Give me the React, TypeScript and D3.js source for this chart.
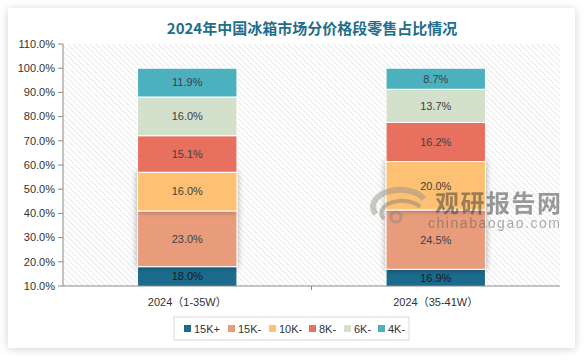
import React from "react";
import * as d3 from "d3";

const categories = ["2024（1-35W）", "2024（35-41W）"];
const seriesNames = ["15K+", "15K-", "10K-", "8K-", "6K-", "4K-"];
const s15kPlus = [18.0, 16.9];
const s15kMinus = [23.0, 24.5];
const s10k = [16.0, 20.0];
const s8k = [15.1, 16.2];
const s6k = [16.0, 13.7];
const s4k = [11.9, 8.7];
const yTicks = [10, 20, 30, 40, 50, 60, 70, 80, 90, 100, 110];
const colors = ["#1c6a8d", "#e89c7c", "#fec072", "#e8705f", "#d2e0cc", "#4bb1bf"];
const title = "2024年中国冰箱市场分价格段零售占比情况";

const seriesValues = [s15kPlus, s15kMinus, s10k, s8k, s6k, s4k];

export default function App() {
  const W = 585, H = 360;
  const left = 63, right = 560, top = 44, bottom = 286;
  const y = d3.scaleLinear().domain([10, 110]).range([bottom, top]);
  const x = d3.scaleBand<string>().domain(categories).range([left, right]).paddingInner(0.6).paddingOuter(0.3);
  const rows = categories.map((c, i) => {
    const r: any = { cat: c };
    seriesNames.forEach((s, j) => (r[s] = seriesValues[j][i]));
    return r;
  });
  const stacked = d3.stack<any>().keys(seriesNames)(rows);
  const font = "Arial, 'Liberation Sans', 'Noto Sans CJK SC', sans-serif";

  return (
    <svg width={W} height={H} style={{ position: "absolute", left: 0, top: 0 }} fontFamily={font}>
      <defs>
        <pattern id="hatch" width="4" height="4" patternUnits="userSpaceOnUse" patternTransform="rotate(-45)">
          <rect width="4" height="4" fill="#ffffff" />
          <line x1="0" y1="0" x2="0" y2="4" stroke="#d8d8d8" strokeWidth="1.1" />
        </pattern>
        <clipPath id="plot">
          <rect x={left} y={top} width={right - left} height={bottom - top} />
        </clipPath>
        <filter id="cardShadow" x="-10%" y="-10%" width="120%" height="120%">
          <feDropShadow dx="0" dy="1" stdDeviation="4" floodColor="#000" floodOpacity="0.18" />
        </filter>
        <filter id="segShadow" x="-20%" y="-20%" width="140%" height="140%">
          <feDropShadow dx="0" dy="0" stdDeviation="3" floodColor="#000" floodOpacity="0.35" />
        </filter>
      </defs>
      <rect x={0} y={0} width={W} height={H} fill="#ffffff" />
      <rect x={8} y={8} width={567} height={340} fill="#ffffff" filter="url(#cardShadow)" />
      <text x={312} y={34} textAnchor="middle" fontSize={15} fontWeight="bold" fill="#1f6e8c"
        fontFamily="'Noto Sans CJK SC', sans-serif">{title}</text>
      <rect x={left} y={top} width={right - left} height={bottom - top} fill="url(#hatch)" />

      <g clipPath="url(#plot)">
        {stacked.map((layer, li) => (
          <g key={layer.key} filter={li === 1 || li === 2 ? "url(#segShadow)" : undefined}>
            {layer.map((d, i) => (
              <rect key={i} x={x(categories[i])} y={y(d[1])} width={x.bandwidth()}
                height={Math.max(0, y(d[0]) - y(d[1]))} fill={colors[li]} stroke="#ffffff" strokeWidth={1} />
            ))}
          </g>
        ))}
      </g>
      {stacked.map((layer, li) =>
        layer.map((d, i) => {
          const lo = Math.max(d[0], 10);
          const cy = (y(lo) + y(d[1])) / 2;
          return (
            <text key={layer.key + i} x={(x(categories[i]) as number) + x.bandwidth() / 2} y={cy}
              dy="0.35em" textAnchor="middle" fontSize={11} fill={li === 0 ? "#1a1a1a" : "#404040"}>
              {seriesValues[li][i].toFixed(1) + "%"}
            </text>
          );
        })
      )}

      {/* watermark */}
      <g opacity={0.5}>
        <path d="M 376 214 A 24 15 0 0 1 424 199" fill="none" stroke="#9a948d" strokeWidth={6} />
        <path d="M 384 219 A 17 10 0 0 1 420 207" fill="none" stroke="#8a847d" strokeWidth={4} />
        <circle cx={396} cy={217} r={5} fill="none" stroke="#8a847d" strokeWidth={3} />
        <text x={498} y={212} textAnchor="middle" fontSize={24} fontWeight="bold" fill="#3a3a3a"
          fontFamily="'Noto Sans CJK SC', sans-serif" textLength={126}>观研报告网</text>
        <text x={494} y={228} textAnchor="middle" fontSize={14} fill="#5a5a5a" textLength={132}>chinabaogao.com</text>
      </g>

      {/* axes */}
      <line x1={left} x2={left} y1={top} y2={bottom} stroke="#898989" />
      <line x1={left} x2={right} y1={bottom} y2={bottom} stroke="#898989" />
      {yTicks.map((t) => (
        <g key={t}>
          <line x1={left - 5} x2={left} y1={y(t)} y2={y(t)} stroke="#898989" />
          <text x={55} y={y(t)} dy="0.35em" textAnchor="end" fontSize={11} fill="#333">{t.toFixed(1) + "%"}</text>
        </g>
      ))}
      <line x1={(left + right) / 2} x2={(left + right) / 2} y1={bottom} y2={bottom + 4} stroke="#898989" />
      {categories.map((c) => (
        <text key={c} x={(x(c) as number) + x.bandwidth() / 2} y={302} dy="0.35em" textAnchor="middle" fontSize={11} fill="#333">{c}</text>
      ))}

      {/* legend */}
      <rect x={174} y={317} width={235} height={23} fill="#fff" stroke="#d9d9d9" />
      {seriesNames.map((s, i) => {
        const xs = [184, 228, 269, 309, 344, 378][i];
        return (
          <g key={s}>
            <rect x={xs} y={325} width={7} height={7} fill={colors[i]} />
            <text x={xs + 10} y={329} dy="0.35em" fontSize={11} fill="#333">{s}</text>
          </g>
        );
      })}
    </svg>
  );
}
